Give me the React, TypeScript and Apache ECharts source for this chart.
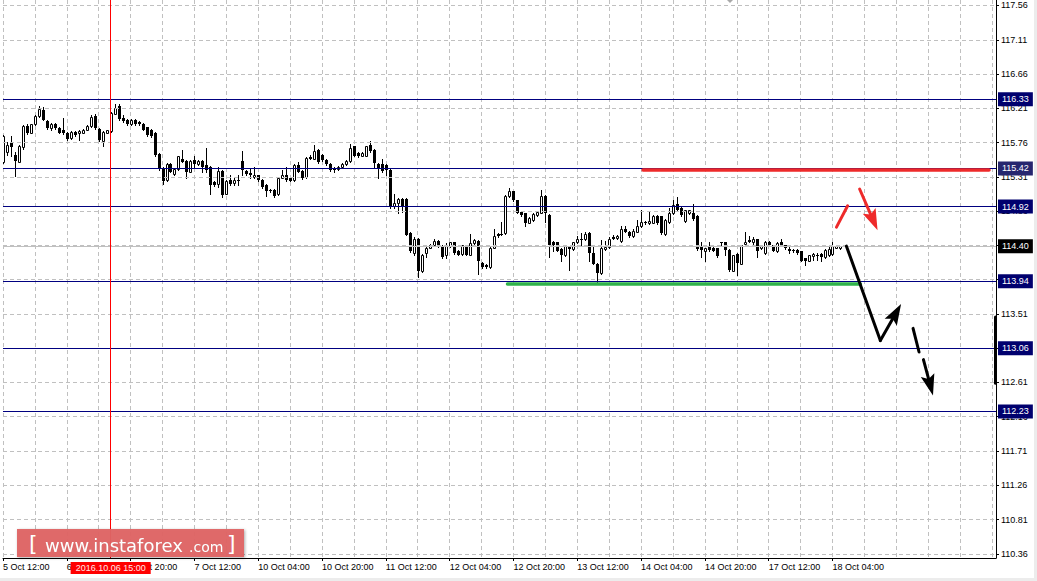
import React, { useEffect, useRef } from 'react';
import * as echarts from 'echarts';

// ---- axis / labels ----
const TIME_LABELS = [
  '5 Oct 12:00', '6 Oct 04:00', '6 Oct 20:00', '7 Oct 12:00', '10 Oct 04:00', '10 Oct 20:00',
  '11 Oct 12:00', '12 Oct 04:00', '12 Oct 20:00', '13 Oct 12:00', '14 Oct 04:00', '14 Oct 20:00',
  '17 Oct 12:00', '18 Oct 04:00',
];
const BARS_PER_LABEL = 16;
const BAR_SLOTS = 249; // visible hourly slots incl. chart shift
const PRICE_TICKS = [117.56, 117.11, 116.66, 116.21, 115.76, 115.31, 114.86, 114.41, 113.96, 113.51, 113.06, 112.61, 112.16, 111.71, 111.26, 110.81, 110.36];
const Y_MIN = 110.305;
const Y_MAX = 117.632;

// ---- horizontal levels ----
const LEVELS = [116.33, 115.42, 114.92, 113.94, 113.06, 112.23];
const BID = 114.40;
const CURSOR_BAR = 27;
const CURSOR_LABEL = '2016.10.06 15:00';

// ---- H1 candles [open, high, low, close] ----
const OCT05 = [
  [115.50, 115.86, 115.49, 115.84], [115.64, 115.77, 115.60, 115.73], [115.77, 115.84, 115.58, 115.70],
  [115.60, 115.64, 115.32, 115.52], [115.51, 115.73, 115.50, 115.72], [115.70, 115.99, 115.68, 115.98],
  [115.98, 116.00, 115.87, 115.89], [115.89, 116.01, 115.88, 116.00], [116.00, 116.12, 115.99, 116.11],
  [116.11, 116.24, 116.10, 116.20], [116.19, 116.23, 116.05, 116.06], [116.04, 116.05, 115.94, 115.95],
];
const OCT06 = [
  [115.95, 116.02, 115.93, 116.01], [116.01, 116.02, 115.94, 115.95], [115.95, 115.96, 115.88, 115.89],
  [115.92, 116.08, 115.87, 115.88], [115.89, 115.90, 115.79, 115.81], [115.82, 115.91, 115.81, 115.90],
  [115.90, 115.91, 115.85, 115.86], [115.88, 115.92, 115.79, 115.91], [115.89, 115.94, 115.88, 115.93],
  [115.93, 115.99, 115.92, 115.98], [115.98, 116.12, 115.97, 116.10], [116.11, 116.14, 115.94, 115.95],
  [115.94, 115.95, 115.78, 115.79], [115.78, 115.91, 115.72, 115.90], [115.89, 115.93, 115.88, 115.92],
  [115.91, 116.16, 115.90, 116.15], [116.14, 116.27, 116.13, 116.22], [116.24, 116.26, 116.06, 116.07],
  [116.08, 116.12, 116.03, 116.04], [116.06, 116.07, 115.99, 116.00], [116.00, 116.07, 115.99, 116.06],
  [116.06, 116.07, 115.99, 116.00], [116.03, 116.04, 115.99, 116.00], [116.01, 116.02, 115.92, 115.93],
];
const OCT07 = [
  [115.96, 115.97, 115.85, 115.86], [115.93, 115.94, 115.83, 115.84], [115.89, 115.90, 115.59, 115.60],
  [115.61, 115.62, 115.40, 115.41], [115.43, 115.44, 115.21, 115.26], [115.27, 115.49, 115.26, 115.48],
  [115.48, 115.49, 115.37, 115.38], [115.35, 115.42, 115.34, 115.41], [115.41, 115.59, 115.40, 115.58],
  [115.55, 115.66, 115.50, 115.51], [115.52, 115.53, 115.29, 115.38], [115.38, 115.53, 115.37, 115.52],
  [115.53, 115.58, 115.44, 115.48], [115.48, 115.53, 115.47, 115.52], [115.52, 115.53, 115.38, 115.44],
  [115.47, 115.69, 115.38, 115.40], [115.44, 115.45, 115.09, 115.20], [115.24, 115.25, 115.19, 115.20],
  [115.21, 115.44, 115.18, 115.39], [115.39, 115.40, 115.05, 115.07], [115.09, 115.27, 115.08, 115.26],
  [115.27, 115.33, 115.20, 115.21], [115.23, 115.31, 115.20, 115.27], [115.25, 115.33, 115.20, 115.27],
];
const OCT10 = [
  [115.52, 115.65, 115.33, 115.40], [115.39, 115.40, 115.34, 115.35], [115.36, 115.42, 115.29, 115.33],
  [115.31, 115.44, 115.29, 115.34], [115.33, 115.34, 115.26, 115.27], [115.27, 115.28, 115.16, 115.17],
  [115.20, 115.21, 115.06, 115.12], [115.12, 115.15, 115.11, 115.14], [115.14, 115.15, 115.05, 115.06],
  [115.08, 115.30, 115.07, 115.29], [115.30, 115.40, 115.29, 115.34], [115.33, 115.44, 115.26, 115.27],
  [115.30, 115.31, 115.25, 115.26], [115.27, 115.48, 115.26, 115.47], [115.47, 115.51, 115.37, 115.38],
  [115.39, 115.40, 115.28, 115.29], [115.31, 115.57, 115.30, 115.56], [115.57, 115.60, 115.54, 115.55],
  [115.55, 115.73, 115.54, 115.65], [115.66, 115.67, 115.49, 115.50], [115.60, 115.61, 115.52, 115.53],
  [115.53, 115.54, 115.47, 115.48], [115.48, 115.49, 115.39, 115.40], [115.43, 115.44, 115.38, 115.40],
];
const OCT11 = [
  [115.41, 115.45, 115.40, 115.44], [115.44, 115.49, 115.43, 115.48], [115.48, 115.53, 115.47, 115.52],
  [115.52, 115.74, 115.51, 115.69], [115.71, 115.72, 115.58, 115.59], [115.62, 115.63, 115.57, 115.58],
  [115.59, 115.63, 115.58, 115.62], [115.59, 115.72, 115.58, 115.71], [115.73, 115.78, 115.64, 115.65],
  [115.66, 115.67, 115.44, 115.49], [115.48, 115.49, 115.30, 115.43], [115.48, 115.55, 115.38, 115.39],
  [115.47, 115.48, 115.33, 115.40], [115.40, 115.41, 114.90, 114.93], [114.93, 115.09, 114.90, 114.97],
  [114.96, 115.03, 114.83, 115.02], [115.02, 115.03, 114.85, 114.93], [115.02, 115.03, 114.54, 114.55],
  [114.57, 114.58, 114.32, 114.33], [114.31, 114.52, 114.28, 114.50], [114.50, 114.51, 114.00, 114.07],
  [114.07, 114.30, 114.06, 114.29], [114.31, 114.42, 114.26, 114.38], [114.38, 114.43, 114.37, 114.42],
];
const OCT12 = [
  [114.42, 114.49, 114.41, 114.47], [114.47, 114.48, 114.39, 114.40], [114.40, 114.41, 114.25, 114.26],
  [114.28, 114.44, 114.24, 114.40], [114.40, 114.46, 114.39, 114.45], [114.45, 114.46, 114.30, 114.31],
  [114.34, 114.35, 114.28, 114.29], [114.30, 114.42, 114.29, 114.41], [114.40, 114.41, 114.28, 114.29],
  [114.29, 114.56, 114.28, 114.44], [114.44, 114.49, 114.43, 114.48], [114.47, 114.48, 114.04, 114.20],
  [114.18, 114.19, 114.11, 114.13], [114.15, 114.17, 114.11, 114.12], [114.12, 114.39, 114.11, 114.38],
  [114.38, 114.63, 114.37, 114.53], [114.56, 114.57, 114.52, 114.53], [114.56, 114.72, 114.54, 114.55],
  [114.57, 115.07, 114.56, 115.06], [115.06, 115.16, 115.05, 115.12], [115.12, 115.13, 114.99, 115.00],
  [115.00, 115.01, 114.83, 114.84], [114.85, 114.86, 114.80, 114.81], [114.83, 114.84, 114.66, 114.70],
];
const OCT13 = [
  [114.71, 114.78, 114.70, 114.77], [114.74, 114.83, 114.73, 114.82], [114.81, 114.86, 114.80, 114.85],
  [114.84, 115.14, 114.83, 115.06], [115.06, 115.07, 114.72, 114.84], [114.81, 114.82, 114.26, 114.42],
  [114.46, 114.47, 114.33, 114.42], [114.45, 114.46, 114.33, 114.34], [114.36, 114.37, 114.20, 114.28],
  [114.28, 114.41, 114.27, 114.40], [114.39, 114.40, 114.09, 114.36], [114.36, 114.46, 114.35, 114.45],
  [114.45, 114.53, 114.44, 114.49], [114.50, 114.57, 114.41, 114.48], [114.49, 114.59, 114.48, 114.56],
  [114.57, 114.59, 114.20, 114.31], [114.31, 114.39, 114.16, 114.17], [114.17, 114.18, 113.93, 114.05],
  [114.05, 114.48, 114.04, 114.37], [114.36, 114.47, 114.35, 114.39], [114.39, 114.52, 114.38, 114.49],
  [114.52, 114.55, 114.49, 114.50], [114.51, 114.54, 114.50, 114.53], [114.47, 114.66, 114.46, 114.63],
];
const OCT14 = [
  [114.63, 114.66, 114.58, 114.59], [114.59, 114.60, 114.52, 114.53], [114.53, 114.63, 114.52, 114.60],
  [114.59, 114.74, 114.58, 114.66], [114.66, 114.87, 114.65, 114.72], [114.72, 114.73, 114.69, 114.70],
  [114.70, 114.85, 114.69, 114.73], [114.71, 114.81, 114.70, 114.80], [114.80, 114.81, 114.69, 114.70],
  [114.79, 114.80, 114.56, 114.57], [114.56, 114.75, 114.55, 114.74], [114.72, 114.90, 114.71, 114.83],
  [114.83, 115.01, 114.82, 114.94], [114.95, 115.05, 114.86, 114.87], [114.90, 114.91, 114.80, 114.81],
  [114.73, 114.88, 114.72, 114.87], [114.83, 114.88, 114.82, 114.87], [114.83, 114.95, 114.74, 114.75],
  [114.80, 114.81, 114.35, 114.36], [114.39, 114.46, 114.26, 114.35], [114.33, 114.38, 114.20, 114.37],
  [114.40, 114.46, 114.34, 114.35], [114.38, 114.39, 114.33, 114.34], [114.37, 114.38, 114.26, 114.27],
];
const OCT17 = [
  [114.46, 114.46, 114.41, 114.46], [114.45, 114.46, 114.28, 114.35], [114.35, 114.36, 114.08, 114.09],
  [114.08, 114.29, 114.07, 114.28], [114.30, 114.31, 114.02, 114.18], [114.17, 114.42, 114.16, 114.41],
  [114.43, 114.58, 114.42, 114.46], [114.48, 114.53, 114.45, 114.46], [114.46, 114.52, 114.41, 114.49],
  [114.49, 114.50, 114.26, 114.33], [114.37, 114.42, 114.36, 114.41], [114.31, 114.47, 114.30, 114.46],
  [114.45, 114.47, 114.40, 114.41], [114.41, 114.42, 114.33, 114.34], [114.33, 114.45, 114.32, 114.44],
  [114.46, 114.49, 114.40, 114.41], [114.41, 114.42, 114.36, 114.37], [114.36, 114.40, 114.31, 114.34],
  [114.35, 114.36, 114.32, 114.33], [114.35, 114.36, 114.30, 114.31], [114.33, 114.34, 114.20, 114.21],
  [114.24, 114.25, 114.15, 114.21], [114.21, 114.29, 114.20, 114.28], [114.27, 114.31, 114.22, 114.30],
];
const OCT18 = [
  [114.28, 114.31, 114.22, 114.27], [114.30, 114.31, 114.20, 114.26], [114.26, 114.36, 114.25, 114.35],
  [114.28, 114.39, 114.27, 114.36], [114.30, 114.45, 114.29, 114.40], [114.38, 114.41, 114.37, 114.40],
  [114.37, 114.40, 114.36, 114.40],
];

// ---- hand-drawn analysis objects, in (bar index, price) ----
const RED_RESISTANCE = [[160.5, 115.40], [247.25, 115.40]];
const GREEN_SUPPORT = [[126.5, 113.91], [215, 113.91]];
const RED_STROKE = [[209, 114.65], [211.8, 114.93]];
const BLACK_STROKES = [
  [[211.5, 114.40], [220, 113.16]],
  [[228.2, 113.32], [229.7, 113.01]],
];
// arrows: [fromBar, fromPrice, toBar, toPrice]
const ARROWS = [
  [214.8, 115.15, 219.3, 114.61],
  [220, 113.16, 225.2, 113.64],
  [230.8, 112.91, 233.2, 112.44],
];
const ARROW_COLORS = ['#ee2a2a', '#000000', '#000000'];
const AXIS_BAR = [[248.7, 113.47], [248.7, 112.60]];

const FONT = 'Liberation Sans';

function renderCandle(params: any, api: any) {
  const x = api.value(0);
  const o = api.value(1);
  const h = api.value(2);
  const l = api.value(3);
  const c = api.value(4);
  const pO = api.coord([x, o]);
  const pC = api.coord([x, c]);
  const pH = api.coord([x, h]);
  const pL = api.coord([x, l]);
  const col = Math.round(pO[0]);
  const cx = col + 0.5;
  const top = Math.round(Math.min(pO[1], pC[1]));
  const bot = Math.round(Math.max(pO[1], pC[1]));
  const up = c >= o;
  const children: any[] = [
    {
      type: 'line',
      shape: { x1: cx, y1: Math.round(pH[1]), x2: cx, y2: Math.round(pL[1]) + 1 },
      style: { stroke: '#000', lineWidth: 1 },
    },
  ];
  if (up && bot - top >= 2) {
    children.push({
      type: 'rect',
      shape: { x: cx - 1, y: top + 0.5, width: 2, height: bot - top },
      style: { fill: '#fff', stroke: '#000', lineWidth: 1 },
    });
  } else {
    children.push({
      type: 'rect',
      shape: { x: col - 1, y: top, width: 3, height: Math.max(bot - top, 1) },
      style: { fill: '#000' },
    });
  }
  return { type: 'group', children };
}

function renderArrow(params: any, api: any) {
  const a = api.coord([api.value(0), api.value(1)]);
  const b = api.coord([api.value(2), api.value(3)]);
  const color = ARROW_COLORS[params.dataIndex] || '#000';
  const dx = b[0] - a[0];
  const dy = b[1] - a[1];
  const len = Math.hypot(dx, dy) || 1;
  const ux = dx / len;
  const uy = dy / len;
  const nx = -uy;
  const ny = ux;
  const headLen = 21;
  const halfW = 7;
  const notch = 4;
  const bx = b[0] - ux * headLen;
  const by = b[1] - uy * headLen;
  const ix = b[0] - ux * (headLen - notch);
  const iy = b[1] - uy * (headLen - notch);
  return {
    type: 'group',
    children: [
      {
        type: 'line',
        shape: { x1: a[0], y1: a[1], x2: ix, y2: iy },
        style: { stroke: color, lineWidth: 3, lineCap: 'round' },
      },
      {
        type: 'polygon',
        shape: {
          points: [
            [b[0], b[1]],
            [bx + nx * halfW, by + ny * halfW],
            [ix, iy],
            [bx - nx * halfW, by - ny * halfW],
          ],
        },
        style: { fill: color },
      },
    ],
  };
}

export default function App() {
  const ref = useRef<HTMLDivElement>(null);

  useEffect(() => {
    document.body.style.margin = '0';
    document.body.style.background = '#fff';
    if (!ref.current) return;
    const chart = echarts.init(ref.current, undefined, { renderer: 'svg' });

    const candles = [
      ...OCT05, ...OCT06, ...OCT07, ...OCT10, ...OCT11, ...OCT12, ...OCT13, ...OCT14, ...OCT17, ...OCT18,
    ].map((c, i) => [i, c[0], c[1], c[2], c[3]]);

    const labelTicks = TIME_LABELS.map((_, k) => k * BARS_PER_LABEL);
    const gridLine = { color: '#c0c0c0', width: 1, type: [4, 3] };

    const seg = (pts: number[][], color: string, width: number) => [
      { coord: pts[0], symbol: 'none', lineStyle: { color, width, type: 'solid', cap: 'round' } },
      { coord: pts[1], symbol: 'none' },
    ];

    chart.setOption({
      animation: false,
      backgroundColor: '#ffffff',
      textStyle: { fontFamily: FONT },
      grid: { left: 0, top: 0, right: 41, bottom: 23, containLabel: false },
      xAxis: [
        {
          type: 'value',
          min: 0,
          max: BAR_SLOTS,
          position: 'bottom',
          axisLine: { show: true, onZero: false, lineStyle: { color: '#000', width: 1 } },
          axisTick: { show: true, customValues: labelTicks, length: 3, lineStyle: { color: '#000' } },
          axisLabel: {
            show: true,
            customValues: labelTicks,
            formatter: (v: number) => TIME_LABELS[Math.round(v / BARS_PER_LABEL)] ?? '',
            align: 'left',
            margin: 4,
            fontSize: 9,
            fontFamily: FONT,
            color: '#000',
          },
          splitLine: { show: false },
        },
        {
          type: 'value',
          min: 0,
          max: BAR_SLOTS,
          interval: 8,
          position: 'top',
          axisLine: { show: false },
          axisTick: { show: false },
          axisLabel: { show: false },
          splitLine: { show: true, lineStyle: gridLine },
        },
      ],
      yAxis: {
        type: 'value',
        position: 'right',
        min: Y_MIN,
        max: Y_MAX,
        axisLine: { show: true, onZero: false, lineStyle: { color: '#000', width: 1 } },
        axisTick: { show: true, customValues: PRICE_TICKS, length: 3, lineStyle: { color: '#000' } },
        axisLabel: {
          customValues: PRICE_TICKS,
          formatter: (v: number) => v.toFixed(2),
          margin: 5,
          fontSize: 9,
          fontFamily: FONT,
          color: '#000',
        },
        splitLine: { show: false },
      },
      series: [
        {
          type: 'line',
          name: 'hgrid',
          data: [],
          z: 1,
          silent: true,
          markLine: {
            silent: true,
            symbol: ['none', 'none'],
            label: { show: false },
            lineStyle: gridLine,
            data: PRICE_TICKS.map((v) => ({ yAxis: v })),
          },
        },
        {
          type: 'line',
          name: 'levels',
          data: [],
          z: 2,
          silent: true,
          markLine: {
            silent: true,
            symbol: ['none', 'none'],
            precision: 2,
            lineStyle: { color: '#000080', width: 1, type: 'solid' },
            label: {
              show: true,
              position: 'end',
              distance: 2,
              formatter: (p: any) => Number(p.value).toFixed(2),
              color: '#ffffff',
              backgroundColor: '#00006e',
              padding: [2, 4, 2, 4],
              fontSize: 9,
              lineHeight: 10,
              fontFamily: FONT,
            },
            data: [
              ...LEVELS.map((v) =>
                v === 115.42 ? { yAxis: v, label: { backgroundColor: '#26266f' } } : { yAxis: v }
              ),
              { yAxis: BID, lineStyle: { color: '#c0c0c0' }, label: { backgroundColor: '#000000' } },
              {
                xAxis: CURSOR_BAR,
                lineStyle: { color: '#ff0000', width: 1 },
                label: {
                  position: 'start',
                  formatter: CURSOR_LABEL,
                  backgroundColor: '#ff0000',
                  color: '#ffeaea',
                  padding: [1, 5, 1, 5],
                  distance: 4,
                },
              },
            ],
          },
        },
        {
          type: 'custom',
          name: 'USDJPY H1',
          z: 3,
          silent: true,
          clip: true,
          renderItem: renderCandle,
          encode: { x: 0, y: [1, 2, 3, 4] },
          data: candles,
        },
        {
          type: 'line',
          name: 'drawings',
          data: [],
          z: 4,
          silent: true,
          markLine: {
            silent: true,
            symbol: ['none', 'none'],
            label: { show: false },
            data: [
              seg(RED_RESISTANCE, '#ee2a2a', 3.5),
              seg(GREEN_SUPPORT, '#2fb24a', 3.5),
              seg(RED_STROKE, '#ee2a2a', 3),
              ...BLACK_STROKES.map((s) => seg(s, '#000', 3)),
              seg(AXIS_BAR, '#000', 3),
            ],
          },
        },
        {
          type: 'custom',
          name: 'arrows',
          z: 5,
          silent: true,
          clip: false,
          renderItem: renderArrow,
          encode: { x: [0, 2], y: [1, 3] },
          data: ARROWS,
        },
      ],
      graphic: [
        {
          type: 'polygon',
          z: 50,
          shape: { points: [[727, 0], [733, 0], [730, 3]] },
          style: { fill: '#a8a8a8' },
        },
        { type: 'rect', z: 50, shape: { x: 1034, y: 0, width: 3, height: 581 }, style: { fill: '#ececec' } },
        { type: 'rect', z: 50, shape: { x: 0, y: 578, width: 1037, height: 3 }, style: { fill: '#ececec' } },
        {
          type: 'group',
          x: 17,
          y: 529,
          z: 100,
          children: [
            {
              type: 'rect',
              z: 100,
              shape: { x: 0, y: 0, width: 227, height: 28 },
              style: {
                fill: '#df6464',
                opacity: 0.95,
                shadowBlur: 3,
                shadowColor: 'rgba(0,0,0,0.35)',
                shadowOffsetX: 1,
                shadowOffsetY: 1,
              },
            },
            {
              type: 'text',
              z: 101,
              x: 12,
              y: 14,
              style: {
                text: '[',
                fill: '#fff',
                font: '22px "DejaVu Sans"',
                verticalAlign: 'middle',
                align: 'left',
              },
            },
            {
              type: 'text',
              z: 101,
              x: 28,
              y: 25,
              style: {
                text: 'www.instaforex',
                fill: '#fff',
                font: '18px "DejaVu Sans"',
                verticalAlign: 'bottom',
                align: 'left',
                textShadowColor: 'rgba(120,0,0,0.35)',
                textShadowBlur: 1,
              },
            },
            {
              type: 'text',
              z: 101,
              x: 172,
              y: 25,
              style: {
                text: '.com',
                fill: '#fff',
                font: '14px "DejaVu Sans"',
                verticalAlign: 'bottom',
                align: 'left',
                textShadowColor: 'rgba(120,0,0,0.35)',
                textShadowBlur: 1,
              },
            },
            {
              type: 'text',
              z: 101,
              x: 210,
              y: 14,
              style: {
                text: ']',
                fill: '#fff',
                font: '22px "DejaVu Sans"',
                verticalAlign: 'middle',
                align: 'left',
              },
            },
          ],
        },
      ],
    });

    return () => {
      chart.dispose();
    };
  }, []);

  return <div ref={ref} style={{ width: 1037, height: 581 }} />;
}
